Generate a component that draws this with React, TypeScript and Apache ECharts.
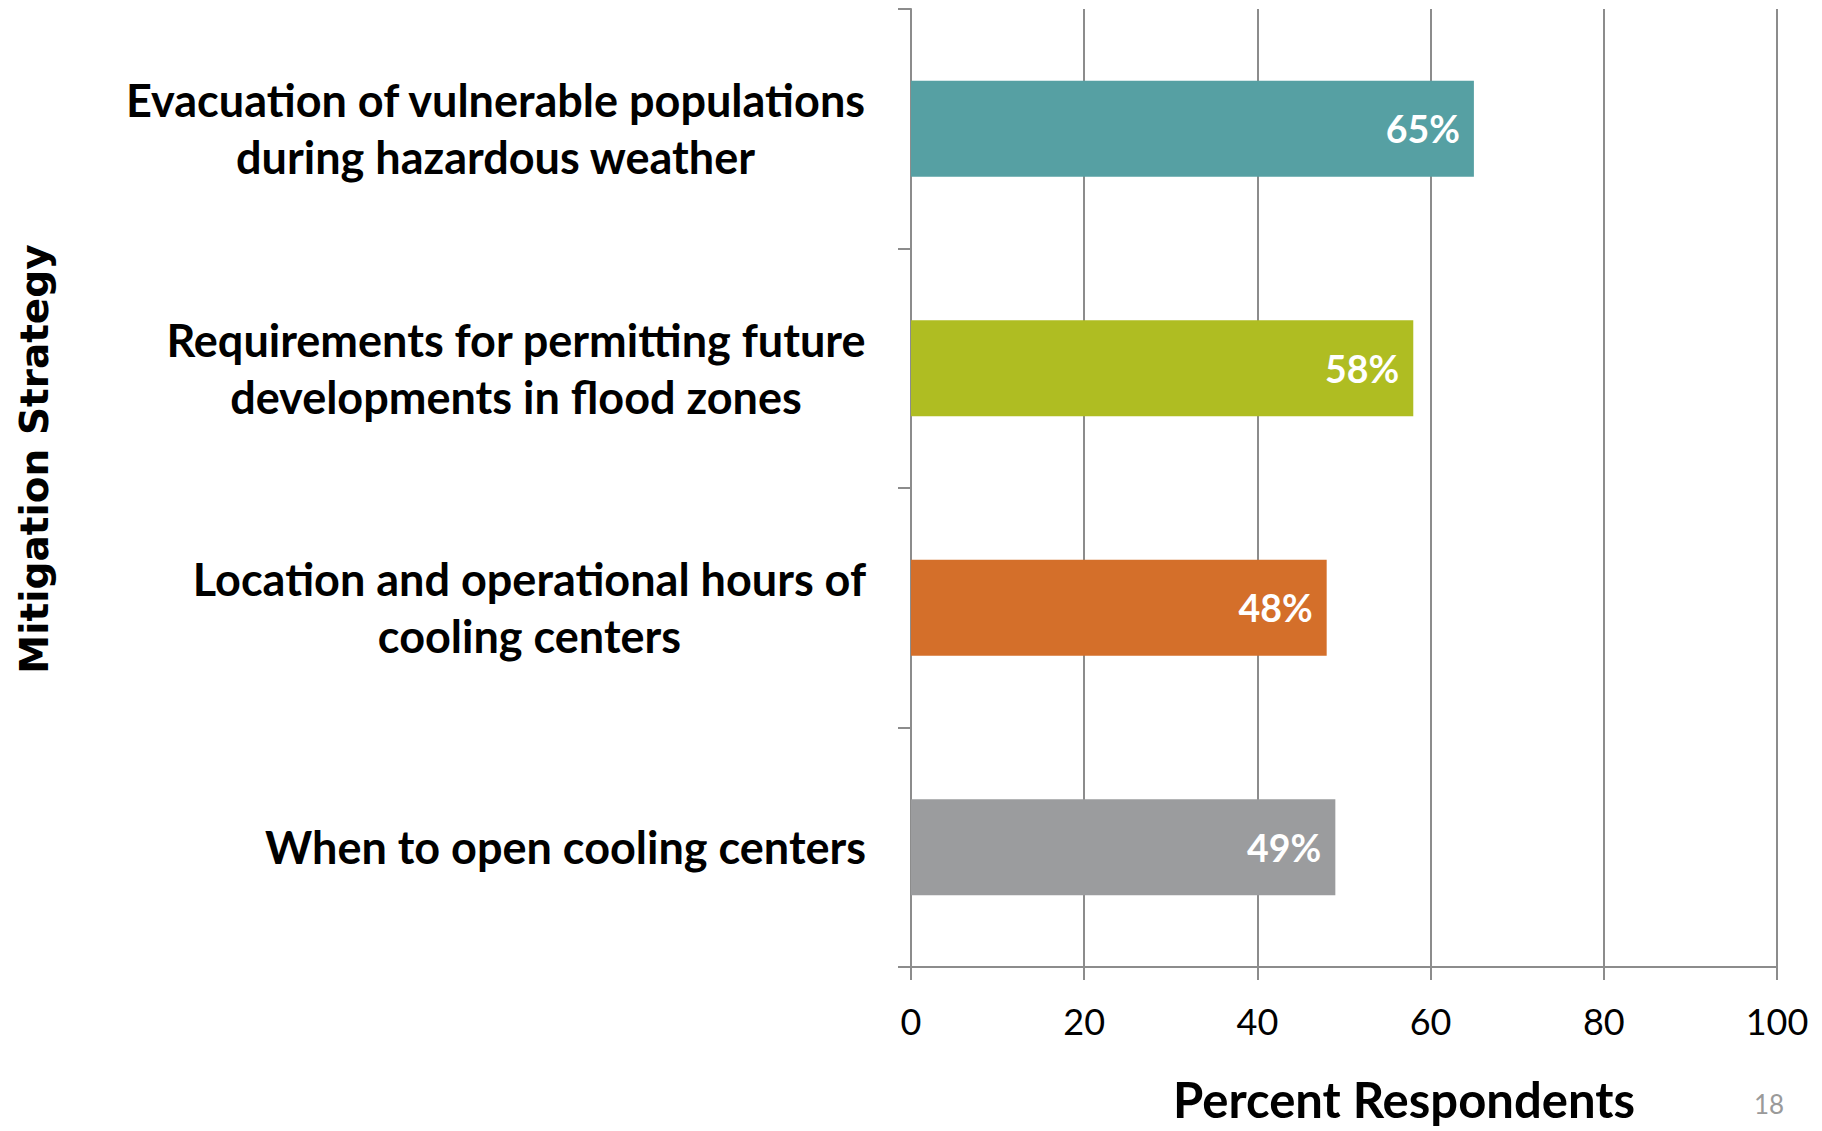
import React, { useEffect, useRef } from "react";
import * as echarts from "echarts";

const categories = [
  "Evacuation of vulnerable populations\nduring hazardous weather",
  "Requirements for permitting future\ndevelopments in flood zones",
  "Location and operational hours of\ncooling centers",
  "When to open cooling centers",
];
const values = [65, 58, 48, 49];
const barColors = ["#56A0A3", "#AFBD22", "#D46F2A", "#9B9C9E"];
const xTicks = { min: 0, max: 100, interval: 20 };
const xTitle = "Percent Respondents";
const yTitle = "Mitigation Strategy";
const pageNumber = "18";

const FONT = "Lato, 'Open Sans', sans-serif";

export default function App() {
  const ref = useRef<HTMLDivElement>(null);
  useEffect(() => {
    if (!ref.current) return;
    const chart = echarts.init(ref.current, null, { renderer: "svg" });
    chart.setOption({
      animation: false,
      backgroundColor: "#ffffff",
      grid: { left: 911, right: 45, top: 9, bottom: 164, containLabel: false },
      xAxis: {
        type: "value",
        min: xTicks.min,
        max: xTicks.max,
        interval: xTicks.interval,
        axisLine: { show: true, lineStyle: { color: "#8C8C8C", width: 2 } },
        axisTick: { show: true, length: 13, lineStyle: { color: "#8C8C8C", width: 2 } },
        splitLine: { show: true, lineStyle: { color: "#8C8C8C", width: 2 } },
        axisLabel: { color: "#000", fontFamily: FONT, fontSize: 36, margin: 36 },
      },
      yAxis: {
        type: "category",
        inverse: true,
        data: categories,
        axisLine: { show: true, lineStyle: { color: "#8C8C8C", width: 2 } },
        axisTick: { show: true, length: 13, lineStyle: { color: "#8C8C8C", width: 2 } },
        axisLabel: {
          margin: 45,
          align: "right",
          formatter: (v: string) =>
            v
              .split("\n")
              .map((l) => `{c|${l}}`)
              .join("\n"),
          rich: {
            c: {
              align: "center",
              fontFamily: FONT,
              fontWeight: "bold",
              fontSize: 45,
              lineHeight: 57,
              color: "#000",
            },
          },
        },
      },
      series: [
        {
          type: "bar",
          data: values.map((v, i) => ({ value: v, itemStyle: { color: barColors[i] } })),
          barWidth: "40%",
          label: {
            show: true,
            position: "insideRight",
            distance: 14,
            formatter: "{c}%",
            color: "#fff",
            fontFamily: FONT,
            fontWeight: "bold",
            fontSize: 37.5,
          },
        },
      ],
      graphic: [
        {
          type: "text",
          x: 1404,
          y: 1099,
          style: {
            text: xTitle,
            fontFamily: FONT,
            fontWeight: "bold",
            fontSize: 49,
            fill: "#000",
            align: "center",
            verticalAlign: "middle",
          },
        },
        {
          type: "text",
          x: 34,
          y: 459,
          rotation: Math.PI / 2,
          style: {
            text: yTitle,
            fontFamily: "'DejaVu Sans', sans-serif",
            fontWeight: "bold",
            fontSize: 39,
            fill: "#000",
            align: "center",
            verticalAlign: "middle",
          },
        },
        {
          type: "text",
          x: 1769,
          y: 1104,
          style: {
            text: pageNumber,
            fontFamily: FONT,
            fontSize: 26,
            fill: "#9A9A9A",
            align: "center",
            verticalAlign: "middle",
          },
        },
      ],
    });
    return () => chart.dispose();
  }, []);
  return (
    <div
      ref={ref}
      style={{ position: "fixed", left: 0, top: 0, width: 1822, height: 1131 }}
    />
  );
}
